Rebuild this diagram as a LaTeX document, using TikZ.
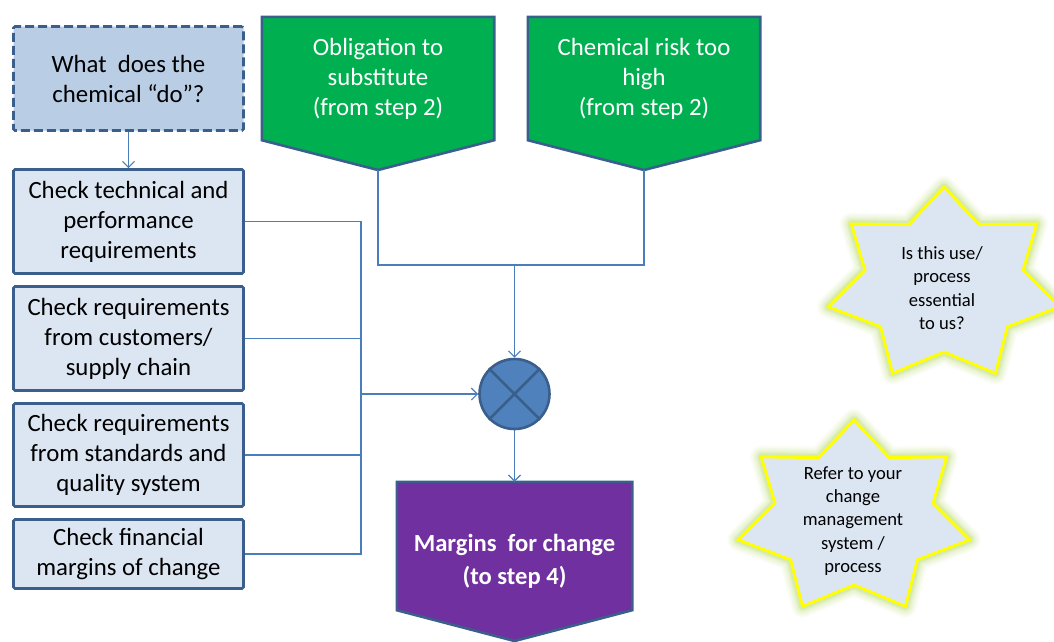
\documentclass[tikz,border=0pt]{standalone}
\usepackage{fontspec}
\setmainfont{Carlito}
\usetikzlibrary{arrows.meta,backgrounds,shapes.geometric}

\definecolor{boxfill}{HTML}{DCE6F2}
\definecolor{askfill}{HTML}{B9CDE5}
\definecolor{edge}{HTML}{3B5F8C}
\definecolor{connc}{HTML}{4A7EBB}
\definecolor{dotfill}{HTML}{4F81BD}
\definecolor{stepgreen}{HTML}{00B050}
\definecolor{steppurple}{HTML}{7030A0}
\definecolor{glowc}{HTML}{B5D86A}
\definecolor{staredge}{HTML}{FFFF00}

\tikzset{
  sevenstar/.pic={
    \foreach \w/\o in {22/0.08,18/0.1,14/0.13,10/0.18,7/0.22}{
      \draw[glowc, line width=\w pt, opacity=\o, line join=round]
        (270:98) \foreach \k in {0,...,6}{ -- ({270+\k*360/7+180/7}:67) -- ({270+(\k+1)*360/7}:98)} -- cycle;
    }
    \draw[staredge, fill=boxfill, line width=2.8pt, line join=miter]
      (270:98) \foreach \k in {0,...,6}{ -- ({270+\k*360/7+180/7}:67) -- ({270+(\k+1)*360/7}:98)} -- cycle;
  }
}

\begin{document}
\begin{tikzpicture}[x=1pt,y=-1pt,
  every node/.style={font=\fontsize{24.8}{30}\selectfont, align=center, inner sep=0pt},
  stepbox/.style={draw=edge, line width=2.6pt, fill=boxfill, minimum width=230pt,
    minimum height=104pt, rounded corners=1.5pt},
  askbox/.style={stepbox, fill=askfill, dash pattern=on 9pt off 4pt},
  pentbody/.style={minimum width=232pt, minimum height=123pt, text=white},
  pentline/.style={draw=edge, line width=2.6pt, line join=miter},
  conn/.style={draw=connc, line width=1.2pt},
  arr/.style={conn, -{Straight Barb[length=6pt,width=12pt]}},
  startext/.style={font=\fontsize{18.6}{23.3}\selectfont}
]
\useasboundingbox (0,0) rectangle (1054,641);

% question box and the four checks
\node[askbox]  (ask) at (128.5,78.5) {What\ \ does the\\chemical “do”?};
\node[stepbox] (b1)  at (128.5,221.5) {Check technical and\\performance\\requirements};
\node[stepbox] (b2)  at (128.5,338.5) {Check requirements\\from customers/\\supply chain};
\node[stepbox, minimum height=103pt] (b3) at (128.5,455) {Check requirements\\from standards and\\quality system};
\node[stepbox, minimum height=69pt]  (b4) at (128.5,554) {Check financial\\margins of change};

% incoming steps
\node[pentbody] (obl)  at (378,78.5) {Obligation to\\substitute\\(from step 2)};
\node[pentbody] (risk) at (644,78.5) {Chemical risk too\\high\\(from step 2)};
\coordinate (obltip)  at (378,170);
\coordinate (risktip) at (644,170);

% merge point
\node[circle, draw=edge, line width=2.6pt, fill=dotfill, minimum size=70pt] (mix) at (514.5,394) {};
\draw[edge, line width=2.6pt] (mix.north west) -- (mix.south east) (mix.north east) -- (mix.south west);

% outgoing step
\node[minimum width=235pt, minimum height=128pt] (marg) at (514.5,546) {};
\node[text=white, font=\bfseries\fontsize{24.6}{33}\selectfont] (margtxt) at (514.5,561) {Margins\ \ for change\\(to step 4)};
\coordinate (margtip) at (514.5,641);

\begin{scope}[on background layer]
  \draw[pentline, fill=stepgreen] (obl.north west) -- (obl.north east) -- (obl.south east) -- (obltip) -- (obl.south west) -- cycle;
  \draw[pentline, fill=stepgreen] (risk.north west) -- (risk.north east) -- (risk.south east) -- (risktip) -- (risk.south west) -- cycle;
  \draw[pentline, fill=steppurple] (marg.north west) -- (marg.north east) -- (marg.south east) -- (margtip) -- (marg.south west) -- cycle;
\end{scope}

% connectors
\coordinate (bus) at (361,394);
\coordinate (join) at (514.5,265);
\draw[arr] (ask) -- (b1);
\draw[conn] (b1.east) -| (bus);
\draw[conn] (b4.east) -| (bus);
\draw[conn] (b2.east) -- (b2.east -| bus);
\draw[conn] (b3.east) -- (b3.east -| bus);
\draw[arr] (bus) -- (mix.west);
\draw[conn] (obltip) |- (join) -| (risktip);
\draw[arr] (join) -- (mix.north);
\draw[arr] (mix.south) -- (marg.north);

% reminders
\pic[xscale=1.21] at (944,285) {sevenstar};
\node[startext] (ess) at (942,288) {Is this use/\\process\\essential\\to us?};
\pic[xscale=1.21] at (854,518) {sevenstar};
\node[startext] (chg) at (853,521) {Refer to your\\change\\management\\system /\\process};
\end{tikzpicture}
\end{document}
